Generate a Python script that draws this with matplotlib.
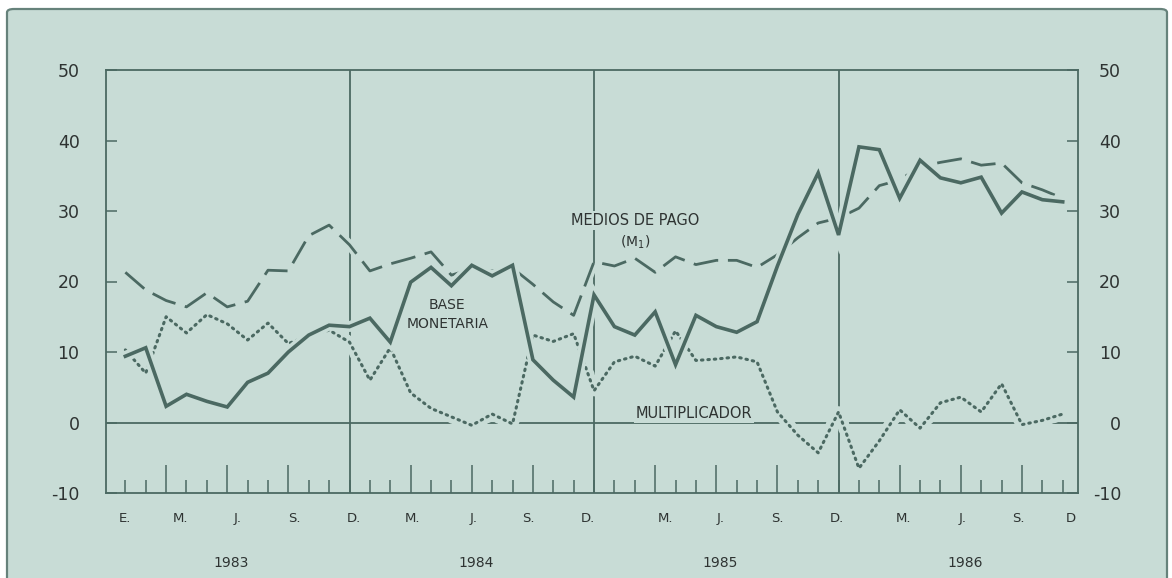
import matplotlib
matplotlib.use("Agg")
import matplotlib.pyplot as plt
import matplotlib.patheffects as pe
from matplotlib.patches import FancyBboxPatch
from matplotlib.transforms import blended_transform_factory

# monthly observations, Jan 1983 (0) .. Nov 1986 (46)
months = list(range(47))

base_monetaria = [
    9.4, 10.6, 2.3, 4.0, 3.0, 2.2, 5.7, 7.0, 10.0, 12.4, 13.8, 13.6,
    14.8, 11.4, 19.9, 22.0, 19.4, 22.3, 20.8, 22.3, 8.9, 6.0, 3.6, 18.1,
    13.6, 12.4, 15.7, 8.2, 15.2, 13.6, 12.8, 14.3, 22.2, 29.5, 35.4, 26.6,
    39.1, 38.7, 31.8, 37.2, 34.7, 34.0, 34.8, 29.7, 32.7, 31.6, 31.3,
]
medios_de_pago = [
    21.3, 18.8, 17.3, 16.4, 18.4, 16.4, 17.2, 21.6, 21.5, 26.5, 28.0, 25.2,
    21.5, 22.5, 23.3, 24.2, 20.9, 21.8, 21.5, 21.9, 19.6, 17.1, 15.2, 22.8,
    22.2, 23.3, 21.3, 23.5, 22.4, 23.0, 23.0, 22.0, 23.8, 26.2, 28.3, 29.0,
    30.4, 33.6, 34.4, 36.3, 36.9, 37.4, 36.5, 36.8, 34.0, 33.0, 31.8,
]
multiplicador = [
    10.3, 7.0, 15.0, 12.7, 15.3, 14.0, 11.7, 14.1, 11.2, 12.3, 13.1, 11.4,
    6.0, 10.6, 4.2, 2.0, 0.8, -0.4, 1.2, -0.2, 12.4, 11.5, 12.6, 4.5,
    8.6, 9.4, 8.0, 13.0, 8.8, 9.0, 9.3, 8.6, 1.5, -1.8, -4.3, 1.5,
    -6.5, -2.6, 1.8, -0.8, 2.8, 3.6, 1.5, 5.5, -0.3, 0.3, 1.2,
]

month_labels = ["E.", "M.", "J.", "S.", "D.", "M.", "J.", "S.", "D.",
                "M.", "J.", "S.", "D.", "M.", "J.", "S.", "D"]
month_label_pos = [0, 2.7, 5.5, 8.3, 11.2, 14.1, 17.1, 19.8, 22.7,
                   26.5, 29.2, 32.0, 34.9, 38.2, 41.1, 43.8, 46.4]
years = ["1983", "1984", "1985", "1986"]
year_ends = [11, 23, 35]
y_ticks = [-10, 0, 10, 20, 30, 40, 50]

bg = "#c8dcd6"
ink = "#4b6962"
txt = "#2e3332"

plt.rcParams["font.family"] = ["DejaVu Sans"]
plt.rcParams["mathtext.default"] = "regular"
plt.rcParams["axes.unicode_minus"] = False

fig = plt.figure(figsize=(11.72, 5.78), dpi=100, facecolor="white")
frame = FancyBboxPatch((7 / 1172, -0.05), 1160 / 1172, 1.05 - 9 / 578,
                       boxstyle="round,pad=0,rounding_size=0.006",
                       transform=fig.transFigure, facecolor=bg,
                       edgecolor="#66827b", linewidth=1.6, zorder=-5)
fig.patches.append(frame)

ax = fig.add_axes([106 / 1172, 1 - 493 / 578, 972 / 1172, 423 / 578])
ax.set_facecolor("none")
ax.set_xlim(-0.95, 46.75)
ax.set_ylim(-10, 50)

for s in ax.spines.values():
    s.set_color(ink)
    s.set_linewidth(1.3)

ax.axhline(0, color=ink, lw=1.3, zorder=1)
for x in year_ends:
    ax.axvline(x, color=ink, lw=1.3, zorder=1)

halo = lambda w, extra: [pe.Stroke(linewidth=w + extra, foreground=bg), pe.Normal()]
ax.plot(months, multiplicador, color=ink, lw=2.2, dashes=(0.5, 1.6),
        dash_capstyle="round", zorder=3, path_effects=halo(2.2, 7))
ax.plot(months, medios_de_pago, color=ink, lw=2.0, dashes=(9, 3.5),
        zorder=4, path_effects=halo(2.0, 5))
ax.plot(months, base_monetaria, color=ink, lw=2.6, solid_joinstyle="miter",
        zorder=5, path_effects=halo(2.6, 5))

# month ticks
ax.set_xticks(months, minor=True)
ax.set_xticks([m for m in months if m % 12 in (2, 5, 8)])
ax.tick_params(axis="x", which="minor", direction="in", length=9.5,
               width=1.1, color=ink, labelbottom=False)
ax.tick_params(axis="x", which="major", direction="in", length=20,
               width=1.1, color=ink, labelbottom=False)

ax.set_yticks(y_ticks)
ax.tick_params(axis="y", direction="in", length=8, width=1.1, color=ink,
               labelsize=12.5, labelcolor=txt, pad=19)

axr = ax.twinx()
axr.set_ylim(ax.get_ylim())
axr.set_yticks(y_ticks)
axr.tick_params(axis="y", direction="in", length=8, width=1.1, color=ink,
                labelsize=12.5, labelcolor=txt, pad=31)
for lab in axr.get_yticklabels():
    lab.set_horizontalalignment("right")
for s in axr.spines.values():
    s.set_visible(False)

bt = blended_transform_factory(ax.transData, ax.transAxes)
for lab, x in zip(month_labels, month_label_pos):
    ax.text(x, -0.06, lab, transform=bt, ha="center", va="center",
            fontsize=9.5, color=txt)
for k, y in enumerate(years):
    ax.text(12 * k + 5.2, -0.165, y, transform=bt, ha="center", va="center",
            fontsize=10, color=txt)

box = dict(facecolor=bg, edgecolor="none", pad=1.5)
ax.text(25.0, 28.6, "MEDIOS DE PAGO", ha="center", va="center",
        fontsize=10.5, color=txt, zorder=6, bbox=box)
ax.text(25.0, 25.6, "(M$_1$)", ha="center", va="center",
        fontsize=10, color=txt, zorder=6)
ax.text(15.8, 16.6, "BASE", ha="center", va="center", fontsize=10,
        color=txt, zorder=6)
ax.text(15.8, 14.0, "MONETARIA", ha="center", va="center", fontsize=10,
        color=txt, zorder=6)
ax.text(27.9, 1.3, "MULTIPLICADOR", ha="center", va="center",
        fontsize=10.5, color=txt, zorder=6, bbox=box)

fig.savefig("out.png", dpi=100, facecolor="white")
